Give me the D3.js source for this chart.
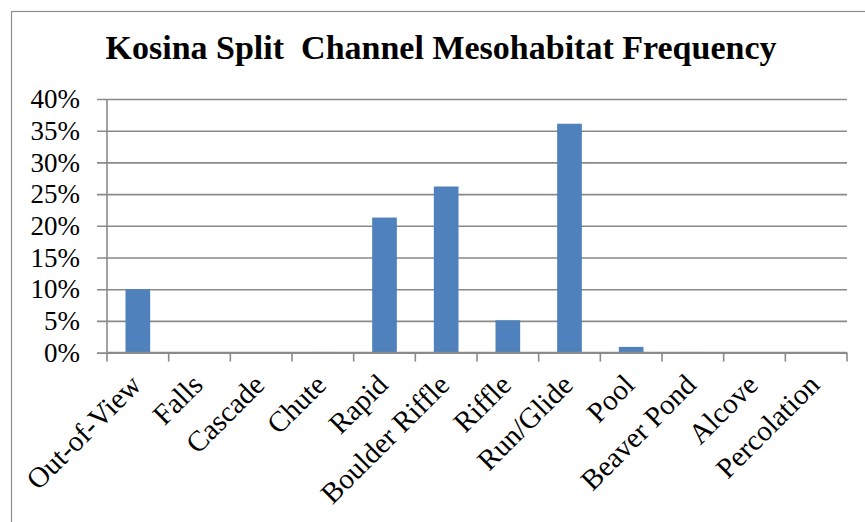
<!DOCTYPE html>
<html>
<head>
<meta charset="utf-8">
<script src="https://cdn.jsdelivr.net/npm/d3@7"></script>
<style>
  html, body { margin: 0; padding: 0; background: #fff; }
  svg { display: block; font-family: "Liberation Serif", "Times New Roman", serif; }
</style>
</head>
<body>
<svg id="chart" width="865" height="522"></svg>
<script>
// Mesohabitat categories and their share of the channel (percent)
const categories = ["Out-of-View", "Falls", "Cascade", "Chute", "Rapid", "Boulder Riffle",
                    "Riffle", "Run/Glide", "Pool", "Beaver Pond", "Alcove", "Percolation"];
const frequency = [10.0, 0, 0, 0.1, 21.3, 26.2, 5.1, 36.1, 0.9, 0.1, 0, 0];
const yTicks = [0, 5, 10, 15, 20, 25, 30, 35, 40];
const titleText = "Kosina Split\u00A0 Channel Mesohabitat Frequency";

const svg = d3.select("#chart");
const W = 865, H = 522;
const plot = { left: 107, right: 847, top: 99, bottom: 352.6 };
const gridColor = "#8a8a8a";

// outer chart frame
svg.append("rect")
  .attr("x", 11.5).attr("y", 11.5)
  .attr("width", W).attr("height", H)
  .attr("fill", "#fff").attr("stroke", "#8e8e8e").attr("stroke-width", 1.2);

svg.append("text")
  .attr("x", 441).attr("y", 59)
  .attr("text-anchor", "middle")
  .attr("font-size", 34).attr("font-weight", "bold")
  .attr("fill", "#000")
  .text(titleText);

const x = d3.scaleBand().domain(categories)
  .range([plot.left, plot.right]).paddingInner(0.6).paddingOuter(0.3);
const xBounds = d3.scaleLinear().domain([0, categories.length]).range([plot.left, plot.right]);
const y = d3.scaleLinear().domain([0, 40]).range([plot.bottom, plot.top]);

// horizontal gridlines with left tick stubs
const yAxis = d3.axisLeft(y).tickValues(yTicks)
  .tickSize(-(plot.right - plot.left)).tickFormat(d => d + "%");
const gy = svg.append("g").attr("transform", `translate(${plot.left},0)`).call(yAxis);
gy.select(".domain").remove();
gy.selectAll(".tick line")
  .attr("x1", -10)
  .attr("x2", plot.right - plot.left)
  .attr("stroke", gridColor).attr("stroke-width", 1.6);
gy.selectAll(".tick text")
  .attr("x", -27)
  .attr("font-size", 27).attr("fill", "#000")
  .attr("font-family", "Liberation Serif, Times New Roman, serif");

// vertical axis line
svg.append("line")
  .attr("x1", plot.left).attr("x2", plot.left)
  .attr("y1", plot.top).attr("y2", plot.bottom)
  .attr("stroke", gridColor).attr("stroke-width", 1.6);

// bars
svg.append("g").selectAll("rect")
  .data(categories.map((c, i) => ({ c, v: frequency[i] })))
  .join("rect")
  .attr("x", d => x(d.c))
  .attr("width", x.bandwidth())
  .attr("y", d => y(d.v))
  .attr("height", d => y(0) - y(d.v))
  .attr("fill", "#4f81bd");

// category axis with ticks between categories
const boundaries = d3.range(categories.length + 1);
const gx = svg.append("g");
gx.append("line")
  .attr("x1", plot.left).attr("x2", plot.right)
  .attr("y1", plot.bottom).attr("y2", plot.bottom)
  .attr("stroke", gridColor).attr("stroke-width", 1.6);
gx.selectAll("line.b").data(boundaries).join("line")
  .attr("class", "b")
  .attr("x1", d => xBounds(d)).attr("x2", d => xBounds(d))
  .attr("y1", plot.bottom).attr("y2", plot.bottom + 9)
  .attr("stroke", gridColor).attr("stroke-width", 1.6);

gx.selectAll("text").data(categories).join("text")
  .attr("transform", d => `translate(${x(d) + x.bandwidth() / 2 + 5},${plot.bottom + 34}) rotate(-45)`)
  .attr("text-anchor", "end")
  .attr("font-size", 29).attr("fill", "#000")
  .text(d => d);
</script>
</body>
</html>
